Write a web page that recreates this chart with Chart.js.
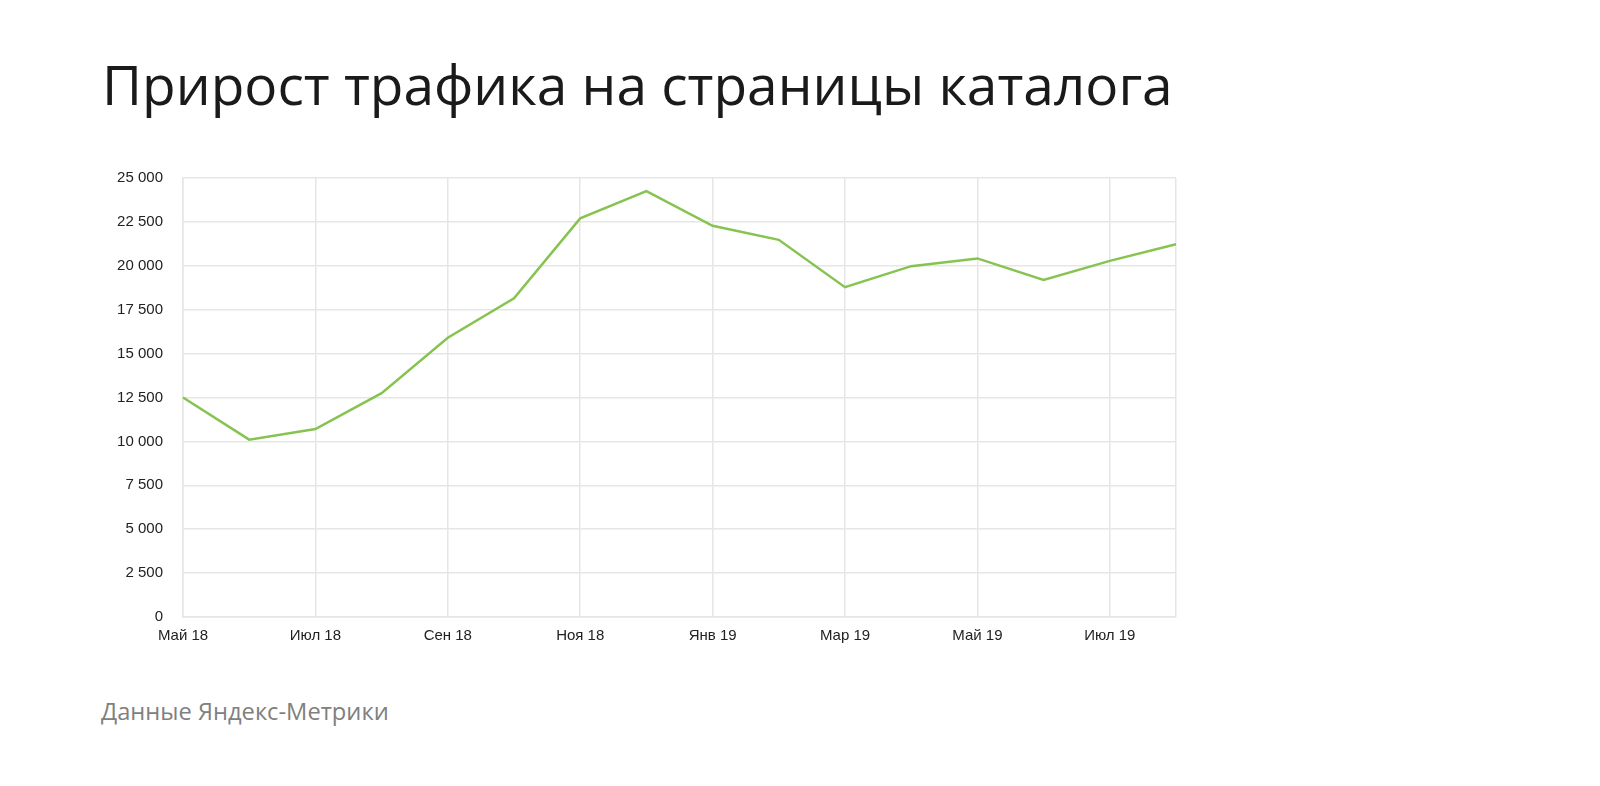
<!DOCTYPE html>
<html>
<head>
<meta charset="utf-8">
<script src="https://cdn.jsdelivr.net/npm/chart.js@4"></script>
<style>
  body { margin: 0; background: #fff; width: 1600px; height: 786px; position: relative; overflow: hidden; }
  #title { position: absolute; left: 102px; top: 56px; margin: 0; font-family: "Open Sans"; font-weight: 400; font-size: 55px; line-height: 1; color: #1a1a1a; white-space: nowrap; }
  #source { position: absolute; left: 101px; top: 700px; margin: 0; font-family: "Open Sans"; font-size: 23.7px; line-height: 1; color: #808080; white-space: nowrap; }
  #wrap { position: absolute; left: 100px; top: 149px; width: 1100px; height: 506px; }
</style>
</head>
<body>
<h1 id="title">Прирост трафика на страницы каталога</h1>
<div id="wrap"><canvas id="trafficChart"></canvas></div>
<p id="source">Данные Яндекс-Метрики</p>
<script>
// months May 18 .. Aug 19
const months = ['Май 18', 'Июн 18', 'Июл 18', 'Авг 18', 'Сен 18', 'Окт 18', 'Ноя 18', 'Дек 18',
                'Янв 19', 'Фев 19', 'Мар 19', 'Апр 19', 'Май 19', 'Июн 19', 'Июл 19', 'Авг 19'];
const visits = [12500, 10100, 10700, 12750, 15900, 18150, 22700, 24250,
                22280, 21480, 18780, 19980, 20420, 19200, 20280, 21230];
const yTicks = [0, 2500, 5000, 7500, 10000, 12500, 15000, 17500, 20000, 22500, 25000];

const gridColor = '#e6e6e6';

function fmt(v) {
    // 25000 -> "25 000"
    return String(v).replace(/\B(?=(\d{3})+(?!\d))/g, ' ');
}

const ctx = document.getElementById('trafficChart').getContext('2d');
new Chart(ctx, {
    type: 'line',
    data: {
        labels: months,
        datasets: [{
            data: visits,
            borderColor: '#86c350',
            borderWidth: 2.5,
            pointRadius: 0,
            tension: 0,
            fill: false
        }]
    },
    options: {
        responsive: true,
        maintainAspectRatio: false,
        animation: false,
        layout: { padding: { top: 0, right: 24, bottom: 0, left: 0 } },
        plugins: { legend: { display: false }, tooltip: { enabled: false } },
        scales: {
            x: {
                grid: {
                    drawTicks: false,
                    lineWidth: 1.5,
                    // only every second month gets a line, plus the right edge
                    color: c => (c.index % 2 === 0 || c.index === months.length - 1) ? gridColor : 'transparent'
                },
                border: { color: gridColor, width: 1.5 },
                ticks: {
                    autoSkip: false,
                    maxRotation: 0,
                    padding: 10,
                    color: '#222',
                    font: { family: 'Liberation Sans', size: 15 },
                    callback: (v, i) => i % 2 === 0 ? months[i] : ''
                }
            },
            y: {
                min: 0,
                max: 25000,
                afterBuildTicks: s => { s.ticks = yTicks.map(v => ({ value: v })); },
                afterFit: s => { s.width = 83; },
                grid: { drawTicks: false, color: gridColor, lineWidth: 1.5 },
                border: { color: gridColor, width: 1.5 },
                ticks: {
                    padding: 20,
                    color: '#222',
                    font: { family: 'Liberation Sans', size: 15 },
                    callback: v => fmt(v)
                }
            }
        }
    }
});
</script>
</body>
</html>
